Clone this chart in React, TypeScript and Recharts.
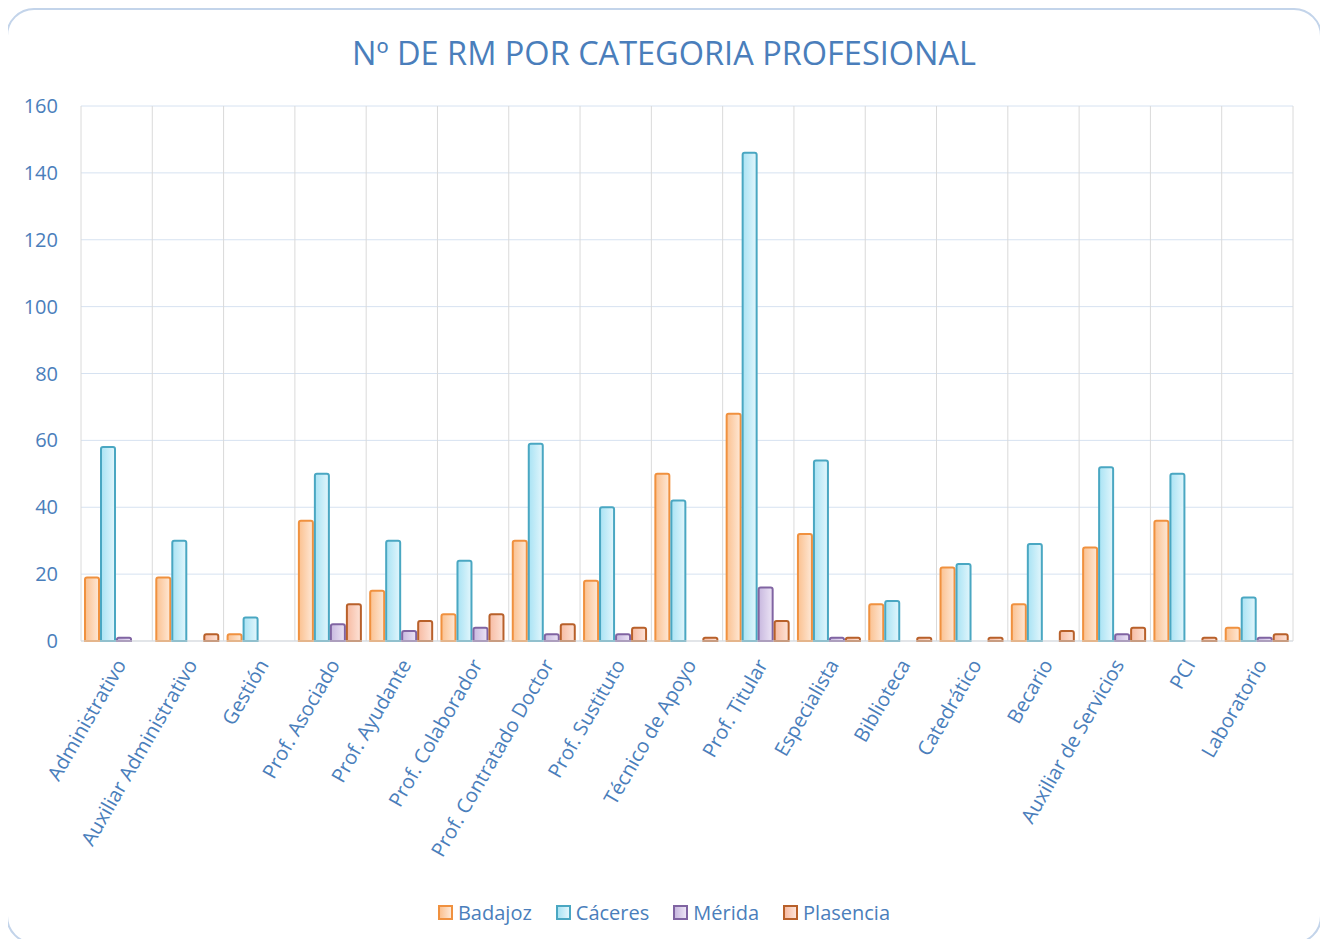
import React from "react";
import { BarChart, Bar, XAxis, YAxis, CartesianGrid } from "recharts";

const CATEGORIES = [
  "Administrativo",
  "Auxiliar Administrativo",
  "Gestión",
  "Prof. Asociado",
  "Prof. Ayudante",
  "Prof. Colaborador",
  "Prof. Contratado Doctor",
  "Prof. Sustituto",
  "Técnico de Apoyo",
  "Prof. Titular",
  "Especialista",
  "Biblioteca",
  "Catedrático",
  "Becario",
  "Auxiliar de Servicios",
  "PCI",
  "Laboratorio",
];

const BADAJOZ = [19, 19, 2, 36, 15, 8, 30, 18, 50, 68, 32, 11, 22, 11, 28, 36, 4];
const CACERES = [58, 30, 7, 50, 30, 24, 59, 40, 42, 146, 54, 12, 23, 29, 52, 50, 13];
const MERIDA = [1, 0, 0, 5, 3, 4, 2, 2, 0, 16, 1, 0, 0, 0, 2, 0, 1];
const PLASENCIA = [0, 2, 0, 11, 6, 8, 5, 4, 1, 6, 1, 1, 1, 3, 4, 1, 2];

const Y_TICKS = [0, 20, 40, 60, 80, 100, 120, 140, 160];

const SERIES = [
  { key: "Badajoz", stroke: "#f0913f", from: "#fbc190", to: "#fee8d6" },
  { key: "Cáceres", stroke: "#4aa7c2", from: "#a9e3f4", to: "#e2f6fc" },
  { key: "Mérida", stroke: "#8064a2", from: "#c8b8df", to: "#ece4f5" },
  { key: "Plasencia", stroke: "#b8602a", from: "#f7bba2", to: "#fde3d8" },
];

const TEXT = "#4a7ebb";
const FONT = "'Open Sans', sans-serif";

const data = CATEGORIES.map((name, i) => ({
  name,
  Badajoz: BADAJOZ[i],
  Cáceres: CACERES[i],
  Mérida: MERIDA[i],
  Plasencia: PLASENCIA[i],
}));

const XTick = (props: any) => {
  const { x, y, payload } = props;
  return (
    <g transform={`translate(${x + 4},${y + 12})`}>
      <text
        transform="rotate(-60)"
        textAnchor="end"
        dy="0.35em"
        fill={TEXT}
        fontSize={20}
        fontFamily={FONT}
      >
        {payload.value}
      </text>
    </g>
  );
};

const boundaries = ({ offset }: any) =>
  CATEGORIES.map((_, i) => offset.left + (i * offset.width) / CATEGORIES.length).concat(
    offset.left + offset.width
  );

export default function App() {
  return (
    <div style={{ position: "relative", margin: -8, width: 1328, height: 947, background: "#fff", fontFamily: FONT }}>
      <div
        style={{
          position: "absolute",
          left: 6,
          top: 8,
          width: 1312,
          height: 932,
          border: "2px solid #c3d4ea",
          borderRadius: 28,
        }}
      />
      <div
        style={{
          position: "absolute",
          left: 0,
          width: 1328,
          top: 31,
          textAlign: "center",
          color: TEXT,
          fontSize: 32.5,
          lineHeight: "44px",
        }}
      >
        Nº DE RM POR CATEGORIA PROFESIONAL
      </div>
      <div style={{ position: "absolute", left: 0, top: 0 }}>
        <BarChart
          width={1328}
          height={947}
          data={data}
          margin={{ top: 106, right: 35, left: 21, bottom: 56 }}
          barCategoryGap={4}
          barGap={2}
        >
          <defs>
            {SERIES.map((s, i) => (
              <linearGradient key={s.key} id={`g${i}`} x1="0" y1="0" x2="1" y2="0">
                <stop offset="0%" stopColor={s.from} />
                <stop offset="100%" stopColor={s.to} />
              </linearGradient>
            ))}
          </defs>
          <CartesianGrid stroke="#d6e2f1" vertical={false} />
          <CartesianGrid
            stroke="#dadada"
            horizontal={false}
            verticalCoordinatesGenerator={boundaries}
            syncWithTicks={false}
          />
          <XAxis
            dataKey="name"
            interval={0}
            tick={<XTick />}
            tickLine={false}
            axisLine={{ stroke: "#d9d9d9" }}
            height={250}
          />
          <YAxis
            domain={[0, 160]}
            ticks={Y_TICKS}
            width={60}
            axisLine={false}
            tickLine={false}
            tick={{ fill: TEXT, fontSize: 20, fontFamily: FONT }}
            tickMargin={17}
          />
          {SERIES.map((s, i) => (
            <Bar
              key={s.key}
              dataKey={s.key}
              fill={`url(#g${i})`}
              stroke={s.stroke}
              strokeWidth={2}
              radius={[2, 2, 0, 0]}
              isAnimationActive={false}
            />
          ))}
        </BarChart>
      </div>
      <div
        style={{
          position: "absolute",
          left: 0,
          width: 1328,
          top: 899,
          display: "flex",
          justifyContent: "center",
          gap: 24,
          color: TEXT,
          fontSize: 20,
        }}
      >
        {SERIES.map((s, i) => (
          <div key={s.key} style={{ display: "flex", alignItems: "center", gap: 5 }}>
            <span
              style={{
                width: 11,
                height: 11,
                border: `2px solid ${s.stroke}`,
                background: `linear-gradient(to right, ${s.from}, ${s.to})`,
                display: "inline-block",
              }}
            />
            <span>{s.key}</span>
          </div>
        ))}
      </div>
    </div>
  );
}
